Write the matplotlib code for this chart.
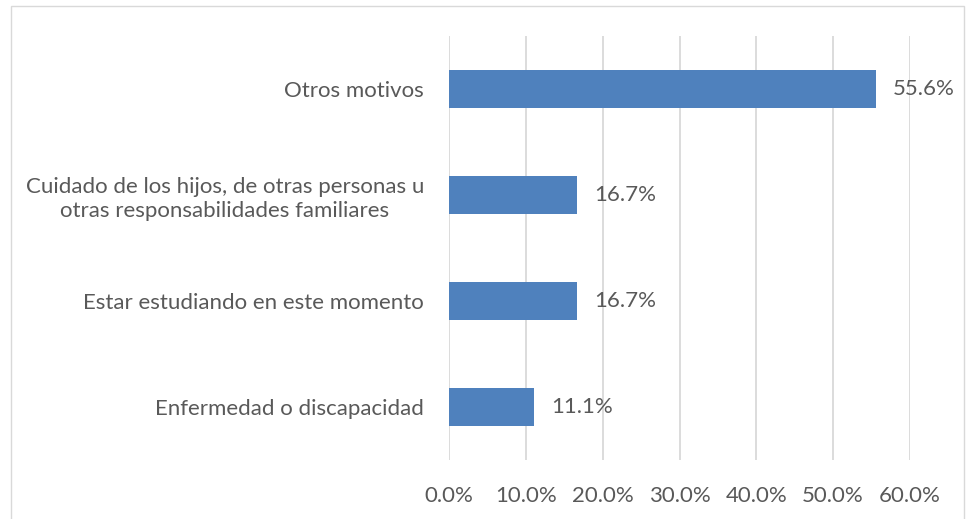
import matplotlib.pyplot as plt
from matplotlib.patches import Rectangle

categories = ['Enfermedad o discapacidad',
              'Estar estudiando en este momento',
              'Cuidado de los hijos, de otras personas u\notras responsabilidades familiares',
              'Otros motivos']
values = [11.1, 16.7, 16.7, 55.6]
ticks = [0, 10, 20, 30, 40, 50, 60]

plt.rcParams['font.family'] = ['Lato', 'DejaVu Sans']
text_color = '#595959'
fs = 16

fig = plt.figure(figsize=(9.66, 5.19), dpi=100)
W, H = 966, 519
ax = fig.add_axes([449 / W, 1 - 460 / H, (910 - 449) / W, (460 - 36) / H])

# chart border
fig.patches.append(Rectangle((11 / W, -0.02), (964 - 11) / W, (1 - 6 / H) + 0.02,
                             transform=fig.transFigure, fill=False,
                             edgecolor='#d9d9d9', linewidth=1))

y = range(len(categories))
ax.barh(y, values, height=0.35, color='#4f81bd', zorder=3)

for yi, v in zip(y, values):
    ax.text(v + 2.2, yi, f'{v:.1f}%', va='center', ha='left',
            fontsize=fs, color=text_color)

ax.set_xlim(0, 60)
ax.set_ylim(-0.5, 3.5)
ax.set_xticks(ticks)
ax.set_xticklabels([f'{t:.1f}%' for t in ticks], fontsize=fs, color=text_color)
ax.set_yticks(list(y))
ax.set_yticklabels(categories, fontsize=fs, color=text_color, ha='right',
                   multialignment='center', linespacing=1.25)
ax.tick_params(axis='y', length=0, pad=18)
ax.tick_params(axis='x', length=0, pad=19)

ax.grid(axis='x', color='#d9d9d9', linewidth=1.3, zorder=0)
for s in ax.spines.values():
    s.set_visible(False)

fig.savefig('out.png', dpi=100)
